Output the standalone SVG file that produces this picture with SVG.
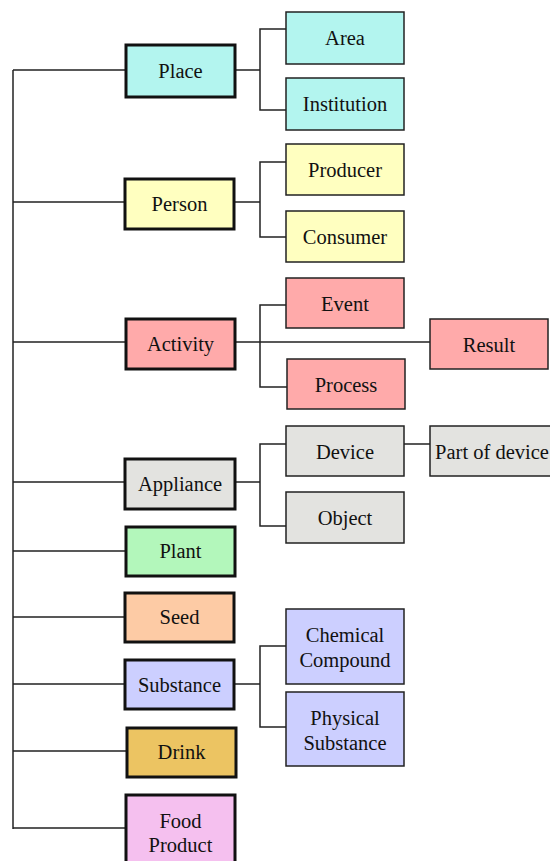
<svg xmlns="http://www.w3.org/2000/svg" width="550" height="861" viewBox="0 0 550 861">
<style>
.main{stroke:#111;stroke-width:3}
.sub{stroke:#222;stroke-width:1.5}
.ln{fill:none;stroke:#222;stroke-width:1.5}
text{font-family:"Liberation Serif","Times New Roman",serif;font-size:20.5px;fill:#111;text-anchor:middle}
</style>
<rect width="550" height="861" fill="#fff"/>
<g id="connectors" class="ln">
<path d="M13,70 V829"/>
<path d="M13,70 H126 M13,202 H125 M13,342 H125 M13,482 H125 M13,551 H125 M13,617 H125 M13,684 H125 M13,751 H127 M13,828 H126"/>
<path d="M235,70 H260 M286,29 H260 V110 H286"/>
<path d="M234,202 H260 M286,162 H260 V237 H286"/>
<path d="M235,342 H430 M286,305 H260 V387 H287"/>
<path d="M235,482 H260 M286,444 H260 V526 H286 M404,444 H430"/>
<path d="M234,684 H260 M286,646 H260 V727 H286"/>
</g>
<g id="place"><rect class="main" x="126" y="45" width="109" height="52" fill="#b3f5ef"/><text x="180.5" y="78">Place</text></g>
<g id="area"><rect class="sub" x="286" y="12" width="118" height="52" fill="#b3f5ef"/><text x="345" y="45">Area</text></g>
<g id="institution"><rect class="sub" x="286" y="78" width="118" height="52" fill="#b3f5ef"/><text x="345" y="111">Institution</text></g>
<g id="person"><rect class="main" x="125" y="179" width="109" height="50" fill="#ffffc0"/><text x="179.5" y="211">Person</text></g>
<g id="producer"><rect class="sub" x="286" y="144" width="118" height="51" fill="#ffffc0"/><text x="345" y="177">Producer</text></g>
<g id="consumer"><rect class="sub" x="286" y="211" width="118" height="51" fill="#ffffc0"/><text x="345" y="244">Consumer</text></g>
<g id="activity"><rect class="main" x="126" y="319" width="109" height="50" fill="#ffaaaa"/><text x="180.5" y="351">Activity</text></g>
<g id="event"><rect class="sub" x="286" y="278" width="118" height="50" fill="#ffaaaa"/><text x="345" y="311">Event</text></g>
<g id="result"><rect class="sub" x="430" y="319" width="118" height="50" fill="#ffaaaa"/><text x="489" y="352">Result</text></g>
<g id="process"><rect class="sub" x="287" y="359" width="118" height="50" fill="#ffaaaa"/><text x="346" y="392">Process</text></g>
<g id="appliance"><rect class="main" x="125" y="459" width="110" height="50" fill="#e3e3e0"/><text x="180" y="491">Appliance</text></g>
<g id="device"><rect class="sub" x="286" y="426" width="118" height="50" fill="#e3e3e0"/><text x="345" y="459">Device</text></g>
<g id="part-of-device"><rect class="sub" x="430" y="426" width="125" height="50" fill="#e3e3e0"/><text x="492" y="459">Part of device</text></g>
<g id="object"><rect class="sub" x="286" y="492" width="118" height="51" fill="#e3e3e0"/><text x="345" y="525">Object</text></g>
<g id="plant"><rect class="main" x="126" y="527" width="109" height="49" fill="#b3f7bb"/><text x="180.5" y="558">Plant</text></g>
<g id="seed"><rect class="main" x="125" y="593" width="109" height="49" fill="#fdcba5"/><text x="179.5" y="624">Seed</text></g>
<g id="substance"><rect class="main" x="125" y="660" width="109" height="49" fill="#cccfff"/><text x="179.5" y="692">Substance</text></g>
<g id="chemical-compound"><rect class="sub" x="286" y="609" width="118" height="75" fill="#cccfff"/><text x="345" y="642">Chemical</text><text x="345" y="667">Compound</text></g>
<g id="physical-substance"><rect class="sub" x="286" y="692" width="118" height="74" fill="#cccfff"/><text x="345" y="725">Physical</text><text x="345" y="750">Substance</text></g>
<g id="drink"><rect class="main" x="127" y="728" width="109" height="49" fill="#ecc462"/><text x="181.5" y="759">Drink</text></g>
<g id="food-product"><rect class="main" x="126" y="795" width="109" height="70" fill="#f5c0ef"/><text x="180.5" y="828">Food</text><text x="180.5" y="852">Product</text></g>
</svg>
